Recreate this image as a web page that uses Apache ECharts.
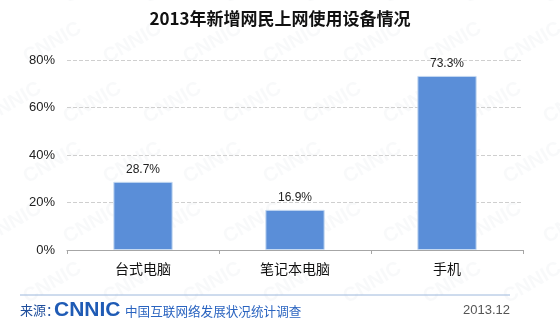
<!DOCTYPE html>
<html><head><meta charset="utf-8">
<script src="https://cdn.jsdelivr.net/npm/echarts@6/dist/echarts.min.js"></script>
<style>html,body{margin:0;padding:0;background:#fff}#c{width:560px;height:323px}</style>
</head><body><div id="c"></div>
<script>
var categories = ['台式电脑', '笔记本电脑', '手机'];
var values = [28.7, 16.9, 73.3];
var yTicks = [0, 20, 40, 60, 80];

var chart = echarts.init(document.getElementById('c'));
var wm = [];
for (var r = 0; r < 6; r++) {
  for (var k = 0; k < 8; k++) {
    wm.push({type:'text', x: k*80 - 20 + (r%2)*40, y: r*60 - 10, rotation: Math.PI/6, z: -1,
      style:{text:'CNNIC', font:'bold 20px Arial', fill:'rgba(200,205,215,0.13)'}});
  }
}
var option = {
  animation: false,
  title: {text: '2013年新增网民上网使用设备情况', left: 'center', top: 5,
    textStyle: {fontSize: 17, fontWeight: 'bold', color: '#111', fontFamily: 'Noto Sans CJK SC'}},
  grid: {left: 67, right: 37, top: 60, bottom: 73},
  xAxis: {type: 'category', data: categories,
    axisLine: {lineStyle: {color: '#a6a6a6'}},
    axisTick: {show: true, length: 4, lineStyle: {color: '#a6a6a6'}},
    axisLabel: {fontSize: 14, color: '#111', margin: 12, fontFamily: 'Noto Sans CJK SC'}},
  yAxis: {type: 'value', min: 0, max: 80, interval: 20,
    axisLine: {show: false}, axisTick: {show: false},
    axisLabel: {formatter: function(v){return yTicks.indexOf(v) >= 0 ? v + '%' : '';}, fontSize: 13, color: '#222', margin: 12, fontFamily: 'Arial'},
    splitLine: {lineStyle: {color: '#cfcfcf', type: 'dashed'}}},
  series: [{type: 'bar', data: values, barWidth: '39%',
    itemStyle: {color: '#5a8ed8', borderColor: '#c5d9f1', borderWidth: 1},
    label: {show: true, position: 'top', formatter: function(p){return p.value.toFixed(1) + '%';}, fontSize: 12, color: '#222', fontFamily: 'Arial', distance: 6}}],
  graphic: wm.concat([
    {type:'line', shape:{x1:20, y1:295, x2:510, y2:295}, style:{stroke:'#9db8dc', lineWidth:1}},
    {type:'text', x:20, y:304, style:{text:'来源：', font:'13px "Noto Sans CJK SC"', fill:'#1f4e9c'}},
    {type:'text', x:54, y:300, style:{text:'CNNIC', font:'bold 21px Arial', fill:'#1f5bb5'}},
    {type:'text', x:125, y:305, style:{text:'中国互联网络发展状况统计调查', font:'12.6px "Noto Sans CJK SC"', fill:'#2a64c0'}},
    {type:'text', x:463, y:304, style:{text:'2013.12', font:'13px Arial', fill:'#555'}}
  ])
};
chart.setOption(option);
</script></body></html>
